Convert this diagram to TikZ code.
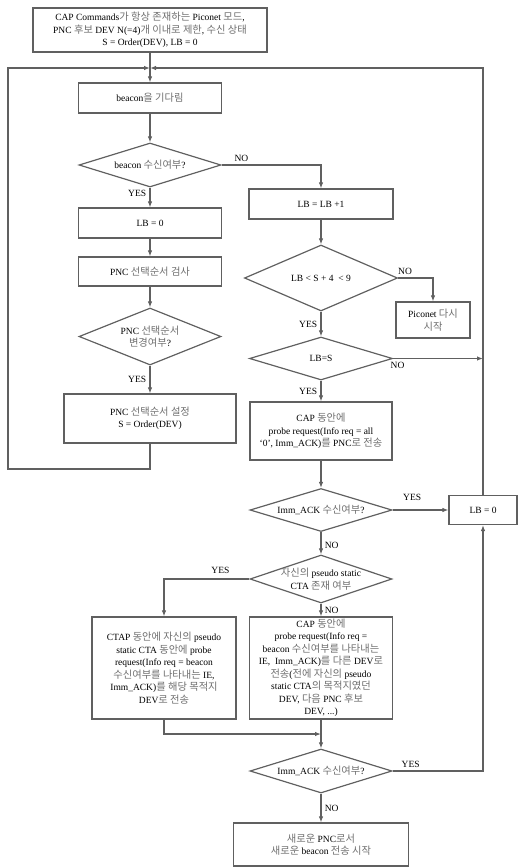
\documentclass[tikz,border=0pt]{standalone}
\usepackage{fontspec}
\setmainfont{Liberation Serif}
\newfontfamily\krfont[Color=6E6E6E, Scale=1.08]{Noto Sans CJK KR}
\usepackage{tikz}
\usetikzlibrary{shapes.geometric}
\usetikzlibrary{arrows.meta}
\definecolor{linegray}{RGB}{96,96,96}

% Hangul goes to the CJK font, everything else stays in Liberation Serif
\XeTeXinterchartokenstate=1
\newXeTeXintercharclass\hangulclass
\newcount\hgcode
\hgcode="AC00
\loop
  \XeTeXcharclass\hgcode=\hangulclass
  \ifnum\hgcode<"D7A3 \advance\hgcode by 1
\repeat
\XeTeXcharclass`\(=0 \XeTeXcharclass`\)=0 \XeTeXcharclass`\,=0
\XeTeXcharclass`\?=0 \XeTeXcharclass`\.=0
\XeTeXcharclass"2018=0 \XeTeXcharclass"2019=0
\XeTeXinterchartoks 0 \hangulclass = {\krfont}
\XeTeXinterchartoks 4095 \hangulclass = {\krfont}
\XeTeXinterchartoks \hangulclass 0 = {\rmfamily}
\XeTeXinterchartoks \hangulclass 4095 = {\rmfamily}

\tikzset{x=1pt, y=-1pt,
every node/.style={ % Text of all nodes
font=\fontsize{9.5}{12.5}\selectfont,
align=center},
procbox/.style={ % Process steps
rectangle,
draw=linegray,
line width=1.2pt,
inner sep=2pt},
decision/.style={ % Questions
diamond,
draw=linegray,
line width=1.2pt,
inner sep=-3pt},
flow/.style={ % Connectors with small filled heads
draw=linegray,
line width=1.1pt,
-{Latex[length=6pt,width=4.5pt]}},
every edge/.style={flow}}

\begin{document}
\begin{tikzpicture}
\useasboundingbox (0,0) rectangle (519,868);
% left column
\node[procbox, minimum width=234pt, minimum height=44pt] (top) at (150,30) {CAP Commands가 항상 존재하는 Piconet 모드,\\ PNC 후보 DEV N(=4)개 이내로 제한, 수신 상태\\ S = Order(DEV), LB = 0};
\node[procbox, minimum width=143pt, minimum height=30pt] (wait) at (150,98) {beacon을 기다림};
\node[decision, minimum width=142pt, minimum height=44pt, aspect=3.2] (rcv) at (150,165) {beacon 수신여부?};
\node[procbox, minimum width=143pt, minimum height=30pt] (lb0) at (150,223) {LB = 0};
\node[procbox, minimum width=143pt, minimum height=29pt] (check) at (150,271.5) {PNC 선택순서 검사};
\node[decision, minimum width=142pt, minimum height=57pt, aspect=2.5] (chg) at (150,336.5) {PNC 선택순서\\ 변경여부?};
\node[procbox, minimum width=172pt, minimum height=49pt] (setord) at (150,418.5) {PNC 선택순서 설정\\ S = Order(DEV)};
% right column
\node[procbox, minimum width=144pt, minimum height=30pt] (inc) at (321,204) {LB = LB +1};
\node[decision, minimum width=153pt, minimum height=66pt, aspect=2.3] (range) at (321,278) {LB < S + 4 ~< 9};
\node[procbox, minimum width=74pt, minimum height=36pt] (piconet) at (433,320) {Piconet 다시\\ 시작};
\node[decision, minimum width=143pt, minimum height=43pt, aspect=3.3] (eqs) at (321,358.5) {LB=S};
\node[procbox, minimum width=142pt, minimum height=58pt] (probe) at (321,431) {CAP 동안에\\ probe request(Info req = all\\ ‘0’, Imm\_ACK)를 PNC로 전송};
\node[decision, minimum width=142pt, minimum height=43pt, aspect=3.3] (ack1) at (321,510) {Imm\_ACK 수신여부?};
\node[procbox, minimum width=68pt, minimum height=29pt] (lbzero) at (483,510) {LB = 0};
\node[decision, minimum width=142pt, minimum height=48pt, aspect=2.96] (own) at (321,579) {자신의 pseudo static\\ CTA 존재 여부};
\node[procbox, minimum width=144pt, minimum height=102pt] (ctap) at (164,668) {CTAP 동안에 자신의 pseudo\\ static CTA 동안에 probe\\ request(Info req = beacon\\ 수신여부를 나타내는 IE,\\ Imm\_ACK)를 해당 목적지\\ DEV로 전송};
\node[procbox, minimum width=143pt, minimum height=102pt] (capbox) at (321,668) {CAP 동안에\\ probe request(Info req =\\ beacon 수신여부를 나타내는\\ IE,~ Imm\_ACK)를 다른 DEV로\\ 전송(전에 자신의 pseudo\\ static CTA의 목적지였던\\ DEV, 다음 PNC 후보\\ DEV, ...)};
\node[decision, minimum width=142pt, minimum height=44pt, aspect=3.2] (ack2) at (321,771) {Imm\_ACK 수신여부?};
\node[procbox, minimum width=175pt, minimum height=43pt] (final) at (321,844.5) {새로운 PNC로서\\ 새로운 beacon 전송 시작};
\coordinate (jtop) at (150,68);
\coordinate (lcorner) at (8,469);
\coordinate (jbot) at (321,734);
% connectors
\draw (top) edge[] (wait) ;
\draw (wait) edge[] (rcv) ;
\draw (rcv) edge[] node[left, pos=0.3] {YES} (lb0) ;
\draw[flow] (rcv.east) -| node[above, pos=0.1] {NO} (inc.north) ;
\draw (lb0) edge[] (check) ;
\draw (check) edge[] (chg) ;
\draw (chg) edge[] node[left] {YES} (setord) ;
\draw[flow] (setord.south) |- (lcorner) |- (jtop) ;
\draw (inc) edge[] (range) ;
\draw[flow] (range.east) -| node[above, pos=0.1] {NO} (piconet.north) ;
\draw (range) edge[] node[left] {YES} (eqs) ;
\draw[flow] (eqs.east) -- node[below, pos=0.05] {NO} (eqs.east -| lbzero.north) ;
\draw (eqs) edge[] node[left] {YES} (probe) ;
\draw (probe) edge[] (ack1) ;
\draw (ack1) edge[] node[above=6pt, pos=0.35] {YES} (lbzero) ;
\draw[flow] (lbzero.north) |- (jtop) ;
\draw (ack1) edge[] node[right, pos=0.6] {NO} (own) ;
\draw[flow] (own.west) -| node[above=2pt, pos=0.17] {YES} (ctap.north) ;
\draw (own) edge[] node[right] {NO} (capbox) ;
\draw[flow] (ctap.south) |- (jbot) ;
\draw (capbox) edge[] (ack2) ;
\draw[flow] (ack2.east) -| node[above, pos=0.1] {YES} (lbzero.south) ;
\draw (ack2) edge[] node[right] {NO} (final) ;
\end{tikzpicture}
\end{document}
